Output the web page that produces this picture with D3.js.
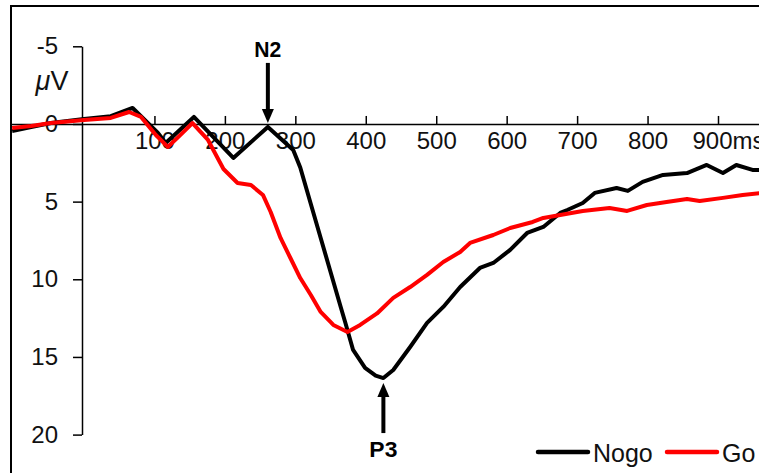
<!DOCTYPE html>
<html>
<head>
<meta charset="utf-8">
<script src="https://cdn.jsdelivr.net/npm/d3@7"></script>
<style>
  body { margin: 0; background: #fff; }
  text { font-family: "Liberation Sans", Arial, sans-serif; }
</style>
</head>
<body>
<div id="chart"></div>
<script>
// time in ms, amplitude in microvolts (negative plotted upward)
const nogoTimes = [-102, -75, -47, 0, 38, 69, 105, 116, 156, 212, 261, 297, 307, 322, 336, 350, 364, 371, 382, 399, 414, 425, 439, 463, 487, 510, 534, 562, 581, 605, 629, 652, 676, 686, 708, 725, 756, 772, 793, 822, 856, 884, 907, 926, 949, 962];
const nogoValues = [0.45, 0.2, -0.06, -0.32, -0.5, -1.03, 0.58, 1.22, -0.45, 2.19, 0.19, 1.67, 2.8, 5.15, 7.34, 9.53, 11.72, 12.8, 14.55, 15.7, 16.2, 16.36, 15.84, 14.36, 12.81, 11.78, 10.5, 9.27, 8.95, 8.11, 7.02, 6.63, 5.73, 5.54, 5.09, 4.44, 4.12, 4.31, 3.73, 3.28, 3.16, 2.64, 3.16, 2.64, 2.96, 2.96];

const goTimes = [-102, -75, -47, 0, 38, 64, 81, 102, 119, 137, 154, 176, 198, 218, 237, 254, 265, 279, 293, 307, 322, 336, 354, 374, 392, 416, 439, 463, 487, 510, 534, 548, 581, 605, 637, 652, 676, 708, 746, 771, 799, 827, 856, 874, 907, 935, 962];
const goValues = [0.26, 0.13, -0.06, -0.26, -0.39, -0.77, -0.45, 0.71, 1.48, 0.7, -0.06, 1.03, 2.9, 3.8, 3.93, 4.57, 5.67, 7.34, 8.63, 9.92, 11.01, 12.1, 12.94, 13.39, 12.94, 12.2, 11.2, 10.5, 9.72, 8.89, 8.24, 7.66, 7.15, 6.7, 6.31, 6.05, 5.86, 5.6, 5.41, 5.6, 5.22, 5.02, 4.83, 4.96, 4.76, 4.57, 4.44];

const xTicks = [100, 200, 300, 400, 500, 600, 700, 800, 900];
const yTicks = [-5, 0, 5, 10, 15, 20];

const peaks = [
  { name: 'N2', t: 261, v: 0.19, dir: 'down' },
  { name: 'P3', t: 425, v: 16.36, dir: 'up' }
];

const series = [
  { name: 'Nogo', color: '#000000', times: nogoTimes, values: nogoValues },
  { name: 'Go', color: '#ff0000', times: goTimes, values: goValues }
];

const w = 759;
const h = 473;

const svg = d3.select('#chart')
              .append('svg')
              .attr('width', w)
              .attr('height', h);

const xScale = d3.scaleLinear().domain([0, 900]).range([84, 718]);
const yScale = d3.scaleLinear().domain([-5, 20]).range([46.3, 434.6]);

// scale for the full-width zero line
const xView = xScale.copy()
                    .domain([xScale.invert(11), xScale.invert(760)])
                    .range([11, 760]);

svg.append('clipPath')
   .attr('id', 'plot-clip')
   .append('rect')
   .attr('x', 12).attr('y', 7)
   .attr('width', w).attr('height', h);

// frame
svg.append('rect')
   .attr('x', 11).attr('y', 6)
   .attr('width', 800).attr('height', 600)
   .attr('fill', 'none')
   .attr('stroke', '#000')
   .attr('stroke-width', 2);

// y axis
const yAxis = d3.axisLeft(yScale)
                .tickValues(yTicks)
                .tickSize(9)
                .tickSizeOuter(0)
                .tickPadding(15)
                .tickFormat(d => String(d));

const gy = svg.append('g')
              .attr('transform', 'translate(82,0)')
              .call(yAxis);
gy.select('.domain').attr('stroke-width', 1.5);
gy.selectAll('line').attr('stroke-width', 1.5);
gy.selectAll('text')
  .attr('font-size', 24)
  .attr('font-family', '"Liberation Sans", Arial, sans-serif')
  .attr('fill', '#111');

svg.append('text')
   .attr('x', 52).attr('y', 90)
   .attr('text-anchor', 'middle')
   .attr('font-size', 27)
   .attr('fill', '#111')
   .html('<tspan font-style="italic">\u03bc</tspan>V');

// x axis (zero line)
const xAxis = d3.axisBottom(xView)
                .tickValues(xTicks)
                .tickSize(-8)
                .tickSizeOuter(0)
                .tickPadding(8)
                .tickFormat(d => d === 900 ? '900ms' : d);

const gx = svg.append('g')
              .attr('transform', `translate(0,${yScale(0)})`)
              .call(xAxis);
gx.select('.domain').attr('stroke-width', 1.5);
gx.selectAll('line').attr('stroke-width', 1.5);
gx.selectAll('text')
  .attr('font-size', 24)
  .attr('font-family', '"Liberation Sans", Arial, sans-serif')
  .attr('fill', '#111');
gx.selectAll('.tick')
  .filter(d => d === 900)
  .select('text')
  .attr('text-anchor', 'start')
  .attr('x', -26);

// waveforms
const line = d3.line()
               .x(d => xView(d[0]))
               .y(d => yScale(d[1]));

svg.append('g')
   .attr('clip-path', 'url(#plot-clip)')
   .selectAll('path')
   .data(series)
   .enter()
   .append('path')
   .attr('d', s => line(s.times.map((t, i) => [t, s.values[i]])))
   .attr('fill', 'none')
   .attr('stroke', s => s.color)
   .attr('stroke-width', 4)
   .attr('stroke-linejoin', 'round');

// peak arrows
peaks.forEach(p => {
  const px = xView(p.t);
  const py = yScale(p.v);
  const g = svg.append('g');
  if (p.dir === 'down') {
    const tip = py - 4;
    g.append('line')
     .attr('x1', px).attr('x2', px)
     .attr('y1', tip - 60).attr('y2', tip - 12)
     .attr('stroke', '#000').attr('stroke-width', 4);
    g.append('path')
     .attr('d', `M${px - 6},${tip - 14}L${px + 6},${tip - 14}L${px},${tip}Z`)
     .attr('fill', '#000');
    g.append('text')
     .attr('x', px).attr('y', tip - 66)
     .attr('text-anchor', 'middle')
     .attr('font-size', 22).attr('font-weight', 'bold')
     .attr('textLength', 27).attr('lengthAdjust', 'spacingAndGlyphs')
     .text(p.name);
  } else {
    const tip = py + 5;
    g.append('line')
     .attr('x1', px).attr('x2', px)
     .attr('y1', tip + 12).attr('y2', tip + 50)
     .attr('stroke', '#000').attr('stroke-width', 4);
    g.append('path')
     .attr('d', `M${px - 6},${tip + 14}L${px + 6},${tip + 14}L${px},${tip}Z`)
     .attr('fill', '#000');
    g.append('text')
     .attr('x', px).attr('y', tip + 74)
     .attr('text-anchor', 'middle')
     .attr('font-size', 22).attr('font-weight', 'bold')
     .attr('textLength', 28).attr('lengthAdjust', 'spacingAndGlyphs')
     .text(p.name);
  }
});

// legend
const legend = svg.append('g').attr('transform', 'translate(538,452)');
const legendX = [0, 129];
series.forEach((s, i) => {
  const lg = legend.append('g').attr('transform', `translate(${legendX[i]},0)`);
  lg.append('line')
    .attr('x1', 0).attr('x2', 50)
    .attr('stroke', s.color)
    .attr('stroke-width', 4.5)
    .attr('stroke-linecap', 'round');
  lg.append('text')
    .attr('x', 55).attr('y', 10)
    .attr('font-size', 25)
    .attr('fill', '#111')
    .text(s.name);
});
</script>
</body>
</html>
